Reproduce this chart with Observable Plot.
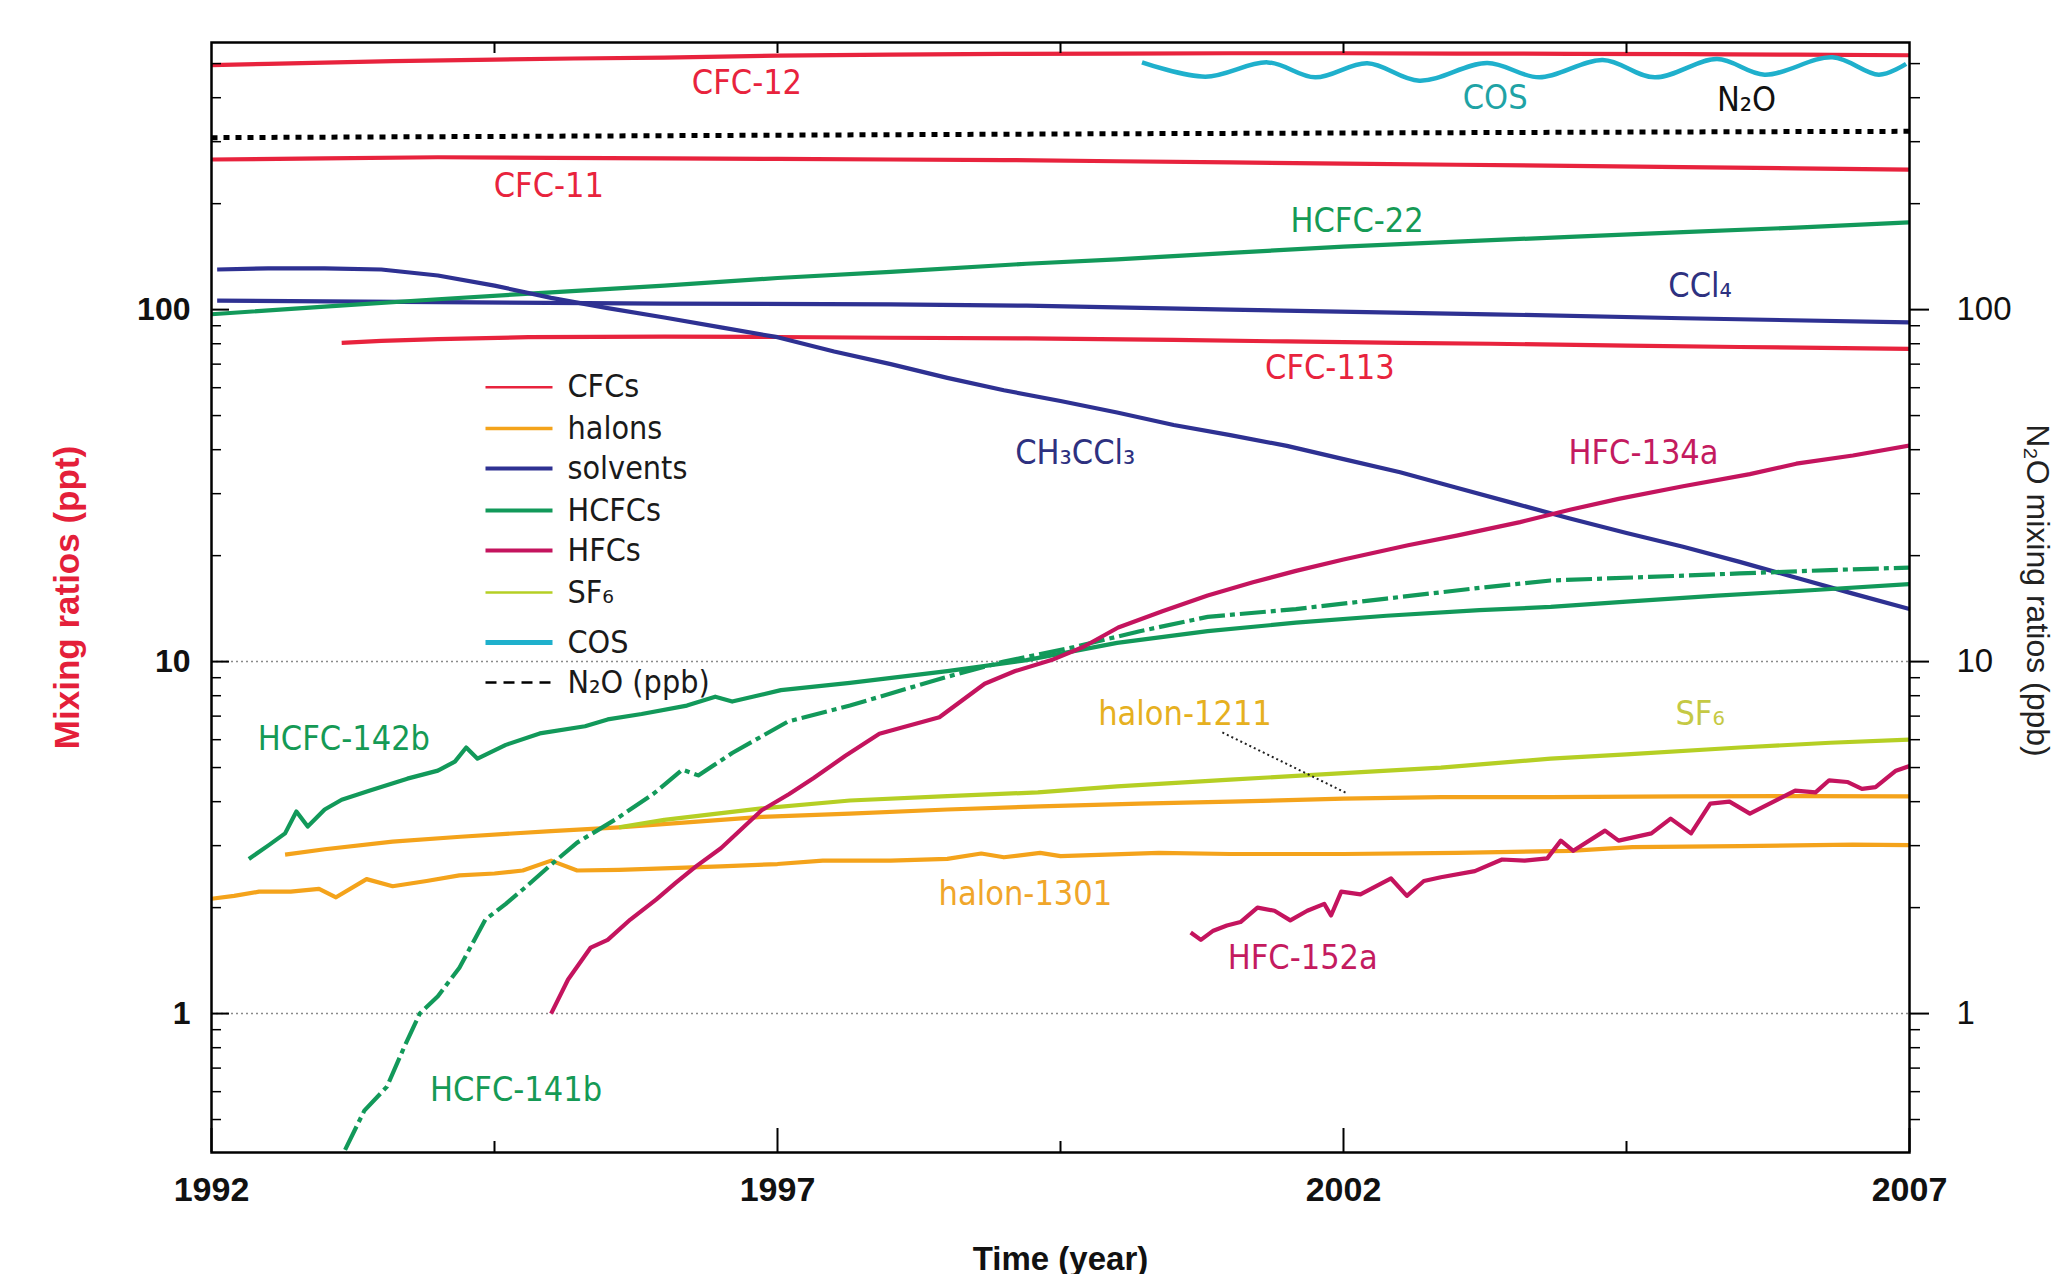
<!DOCTYPE html>
<html>
<head>
<meta charset="utf-8">
<script src="https://cdn.jsdelivr.net/npm/d3@7"></script>
<script src="https://cdn.jsdelivr.net/npm/@observablehq/plot@0.6"></script>
<style>
  html, body { margin: 0; padding: 0; background: #ffffff; overflow: hidden; }
  #chart svg { display: block; }
</style>
</head>
<body>
<div id="chart"></div>
<script>
// ---------------- data (year, mixing ratio) ----------------
const cfc12 = [[1992.0,495],[1992.5,499],[1993.0,503],[1993.6,508],[1994.5,513],[1995.2,517],[1996.0,520],[1997.0,527],[1998.0,530],[1999.0,533],[2000.0,534],[2001.0,535],[2002.0,535],[2003.0,534],[2004.0,533],[2005.0,532],[2006.0,530],[2007.0,528]];
const cfc11 = [[1992.0,267],[1993.0,269],[1994.0,271],[1995.0,270],[1996.0,269],[1997.0,268],[1998.0,267],[1999.0,266],[2000.0,264],[2001.0,262],[2002.0,260],[2003.0,258],[2004.0,256],[2005.0,254],[2006.0,252],[2007.0,250]];
const cfc113 = [[1993.15,80.5],[1993.5,81.5],[1994.0,82.5],[1994.8,83.5],[1996.0,83.8],[1997.0,83.6],[1998.0,83.2],[1999.2,82.8],[2000.5,82.0],[2001.5,81.2],[2002.5,80.5],[2003.3,80.0],[2004.5,79.0],[2005.5,78.3],[2007.0,77.4]];
const ccl4 = [[1992.05,106],[1994.0,105],[1996.0,104],[1998.0,103.5],[1999.2,102.6],[2001.0,100],[2003.3,97],[2005.0,94.5],[2007.0,92]];
const ch3ccl3 = [[1992.05,130],[1992.5,131],[1993.0,131],[1993.5,130],[1994.0,125],[1994.5,117],[1995.0,108],[1995.5,101],[1996.0,95],[1996.5,89],[1997.0,83.5],[1997.5,76],[1998.0,70],[1998.5,64],[1999.0,59],[1999.5,55],[2000.0,51],[2000.5,47],[2001.0,44],[2001.5,41],[2002.0,37.6],[2002.5,34.5],[2003.0,31.2],[2003.5,28.2],[2004.0,25.5],[2004.5,23.2],[2005.0,21.2],[2005.5,19.2],[2006.0,17.3],[2006.5,15.6],[2007.0,14.1]];
const hcfc22 = [[1992.0,97],[1993.0,102],[1994.0,107],[1995.0,112],[1996.0,117],[1997.0,123],[1998.0,128],[1999.2,135],[2000.0,139],[2001.0,145],[2002.0,151],[2003.0,156],[2004.0,161],[2005.0,166],[2006.0,171],[2007.0,177]];
const hcfc142b = [[1992.33,2.75],[1992.5,3.0],[1992.65,3.25],[1992.75,3.75],[1992.85,3.4],[1993.0,3.8],[1993.15,4.05],[1993.4,4.3],[1993.73,4.65],[1994.0,4.9],[1994.15,5.2],[1994.25,5.7],[1994.35,5.3],[1994.6,5.8],[1994.9,6.25],[1995.3,6.55],[1995.5,6.85],[1995.8,7.1],[1996.2,7.5],[1996.45,7.95],[1996.6,7.7],[1997.03,8.3],[1997.64,8.7],[1998.5,9.4],[1999.2,10.1],[2000.0,11.3],[2000.8,12.2],[2001.58,12.9],[2002.38,13.5],[2003.2,14.0],[2003.83,14.3],[2004.5,14.8],[2005.3,15.4],[2006.2,16.0],[2007.0,16.6]];
const hcfc141b = [[1993.18,0.41],[1993.35,0.53],[1993.55,0.62],[1993.7,0.8],[1993.84,1.0],[1994.0,1.12],[1994.19,1.35],[1994.42,1.85],[1994.6,2.05],[1994.77,2.28],[1995.0,2.65],[1995.23,3.06],[1995.58,3.58],[1995.9,4.2],[1996.16,4.93],[1996.3,4.75],[1996.6,5.5],[1997.09,6.75],[1997.64,7.5],[1998.47,9.0],[1999.0,10.0],[1999.62,11.0],[2000.2,12.2],[2000.8,13.4],[2001.58,14.1],[2002.38,15.1],[2003.2,16.2],[2003.83,17.0],[2004.7,17.4],[2005.5,17.8],[2006.3,18.2],[2007.0,18.5]];
const hfc134a = [[1995.0,1.0],[1995.15,1.25],[1995.35,1.54],[1995.5,1.62],[1995.7,1.85],[1995.93,2.11],[1996.1,2.35],[1996.28,2.62],[1996.5,2.95],[1996.86,3.78],[1997.1,4.2],[1997.32,4.67],[1997.6,5.4],[1997.9,6.24],[1998.1,6.5],[1998.43,6.95],[1998.83,8.65],[1999.1,9.4],[1999.42,10.1],[1999.7,11.0],[2000.01,12.5],[2000.4,13.9],[2000.8,15.4],[2001.2,16.8],[2001.58,18.1],[2002.0,19.5],[2002.57,21.4],[2003.0,22.8],[2003.56,24.9],[2004.0,27.0],[2004.43,29.0],[2005.0,31.5],[2005.59,34.1],[2006.0,36.5],[2006.5,38.5],[2007.0,41.1]];
const hfc152a = [[2000.65,1.7],[2000.74,1.62],[2000.85,1.72],[2000.97,1.78],[2001.09,1.82],[2001.24,2.0],[2001.39,1.96],[2001.53,1.84],[2001.68,1.96],[2001.83,2.05],[2001.89,1.9],[2001.98,2.22],[2002.15,2.18],[2002.42,2.42],[2002.56,2.16],[2002.71,2.38],[2002.86,2.44],[2003.16,2.54],[2003.4,2.74],[2003.6,2.72],[2003.8,2.76],[2003.92,3.1],[2004.03,2.9],[2004.31,3.31],[2004.43,3.1],[2004.72,3.25],[2004.89,3.58],[2005.07,3.25],[2005.24,3.95],[2005.41,4.0],[2005.59,3.7],[2005.99,4.3],[2006.17,4.25],[2006.29,4.6],[2006.45,4.55],[2006.58,4.35],[2006.7,4.4],[2006.88,4.9],[2007.0,5.05]];
const sf6 = [[1995.6,3.38],[1996.0,3.55],[1996.86,3.83],[1997.64,4.03],[1998.5,4.15],[1999.3,4.25],[2000.0,4.42],[2001.0,4.62],[2002.0,4.82],[2002.86,5.0],[2003.83,5.3],[2004.5,5.45],[2005.5,5.7],[2006.3,5.88],[2007.0,6.0]];
const halon1211 = [[1992.65,2.83],[1993.0,2.93],[1993.6,3.08],[1994.2,3.18],[1995.0,3.3],[1995.6,3.38],[1996.86,3.62],[1997.64,3.7],[1998.5,3.8],[1999.32,3.88],[2000.2,3.95],[2001.0,4.0],[2002.0,4.08],[2002.86,4.12],[2003.83,4.12],[2005.0,4.14],[2006.0,4.15],[2007.0,4.14]];
const halon1301 = [[1992.0,2.12],[1992.2,2.16],[1992.42,2.22],[1992.7,2.22],[1992.95,2.26],[1993.1,2.14],[1993.37,2.41],[1993.6,2.3],[1993.9,2.38],[1994.19,2.47],[1994.5,2.5],[1994.75,2.55],[1995.0,2.72],[1995.23,2.55],[1995.6,2.56],[1995.93,2.58],[1996.5,2.62],[1997.0,2.66],[1997.4,2.72],[1998.0,2.72],[1998.5,2.75],[1998.8,2.85],[1999.0,2.78],[1999.32,2.86],[1999.5,2.8],[2000.37,2.86],[2001.0,2.84],[2002.0,2.84],[2003.0,2.86],[2004.0,2.9],[2004.55,2.97],[2005.5,2.99],[2006.5,3.02],[2007.0,3.01]];
const cos = [[2000.22,504],[2000.78,459],[2001.33,504],[2001.75,457],[2002.21,501],[2002.67,447],[2003.27,502],[2003.73,457],[2004.29,512],[2004.75,457],[2005.3,515],[2005.72,465],[2006.32,521],[2006.73,465],[2006.97,499]];
const n2o = [[1992.0,308],[1994.0,310],[1996.0,312],[1998.0,314],[2000.0,316],[2002.0,317.5],[2004.0,319],[2006.0,320.5],[2007.0,321]];

// tick labels
const xTickLabels = [1992, 1997, 2002, 2007];
const xMinorTicks = [1994.5, 1999.5, 2004.5];
const xTopTicks = [1994.5, 1997, 1999.5, 2002, 2004.5];
const yTickLabels = [1, 10, 100];
const yGridLines = [1, 10];

// in-chart labels (data coordinates)
const seriesLabels = [
  {text: "CFC-12",    x: 1996.73, y: 439,  color: "#e8233d"},
  {text: "CFC-11",    x: 1994.98, y: 225,  color: "#e8233d"},
  {text: "HCFC-22",   x: 2002.12, y: 179,  color: "#159a55"},
  {text: "CCl₄",      x: 2005.15, y: 117,  color: "#2e3180"},
  {text: "CFC-113",   x: 2001.88, y: 68,   color: "#e8233d"},
  {text: "CH₃CCl₃",   x: 1999.63, y: 39.2, color: "#2e3180"},
  {text: "HFC-134a",  x: 2004.65, y: 39.2, color: "#c41b5f"},
  {text: "COS",       x: 2003.34, y: 399,  color: "#1fa3a5"},
  {text: "N₂O",       x: 2005.56, y: 393,  color: "#111111"},
  {text: "HCFC-142b", x: 1993.17, y: 6.04, color: "#159a55"},
  {text: "HCFC-141b", x: 1994.69, y: 0.608,color: "#159a55"},
  {text: "halon-1211",x: 2000.6,  y: 7.11, color: "#e6b020"},
  {text: "SF₆",       x: 2005.15, y: 7.1,  color: "#c5c944"},
  {text: "halon-1301",x: 1999.19, y: 2.19, color: "#f0a62a"},
  {text: "HFC-152a",  x: 2001.64, y: 1.44, color: "#c41b5f"}
];
const leader = [{x1: 2000.93, y1: 6.29, x2: 2002.04, y2: 4.21}];

// legend
const legendItems = [
  {label: "CFCs",      color: "#e8233d", width: 2.5},
  {label: "halons",    color: "#f4a31b", width: 3.5},
  {label: "solvents",  color: "#2e3192", width: 4},
  {label: "HCFCs",     color: "#12995a", width: 4},
  {label: "HFCs",      color: "#c4145e", width: 4},
  {label: "SF₆",       color: "#b5cf24", width: 2.5},
  {label: "COS",       color: "#1fb0cc", width: 5},
  {label: "N₂O (ppb)", color: "#000000", width: 2.5, dash: "11,7"}
];

// ---------------- layout ----------------
const W = 2056, H = 1274;
const mL = 211, mR = 147, mT = 42, mB = 122;
const innerW = W - mL - mR, innerH = H - mT - mB;
const xDomain = [1992, 2007];
const yDomain = [0.403, 574];

const RED = "#e8233d", ORANGE = "#f4a31b", NAVY = "#2e3192", GREEN = "#12995a",
      CRIMSON = "#c4145e", LIME = "#b5cf24", CYAN = "#1fb0cc";

// minor log ticks
const yMinorTicks = [];
for (const d of [0.1, 1, 10, 100]) for (let m = 2; m <= 9; m++) {
  const v = +(d * m).toPrecision(3);
  if (v > yDomain[0] && v < yDomain[1]) yMinorTicks.push(v);
}

// pixel <-> data helpers mirroring Plot's scales (for legend placement)
const xs = d3.scaleLinear(xDomain, [mL, W - mR]);
const ys = d3.scaleLog(yDomain, [H - mB, mT]);
const legendRowPx = [386.7, 428, 468, 510, 550, 592, 642, 682];
const legX1 = xs.invert(485), legX2 = xs.invert(552), legTX = xs.invert(567);

const labelFont = "'DejaVu Sans Condensed', 'DejaVu Sans', sans-serif";
const tickFont = "'Liberation Sans', Arial, sans-serif";

const line = (data, opts) => Plot.line(data, {x: d => d[0], y: d => d[1], strokeWidth: 4.2, clip: true, strokeLinejoin: "round", strokeLinecap: "butt", ...opts});

const marks = [
  Plot.ruleY(yGridLines, {stroke: "#8a8a8a", strokeWidth: 1.5, strokeDasharray: "2,3"}),
  line(n2o, {stroke: "#000", strokeWidth: 5, strokeDasharray: "6,6"}),
  line(cfc12, {stroke: RED}),
  line(cfc11, {stroke: RED}),
  line(cfc113, {stroke: RED}),
  line(ccl4, {stroke: NAVY}),
  line(hcfc22, {stroke: GREEN}),
  line(ch3ccl3, {stroke: NAVY}),
  line(halon1301, {stroke: ORANGE}),
  line(halon1211, {stroke: ORANGE}),
  line(sf6, {stroke: LIME}),
  line(hcfc142b, {stroke: GREEN}),
  line(hcfc141b, {stroke: GREEN, strokeDasharray: "26,5,5,5"}),
  line(hfc134a, {stroke: CRIMSON}),
  line(hfc152a, {stroke: CRIMSON}),
  line(cos, {stroke: CYAN, strokeWidth: 4.5, curve: "catmull-rom"}),
  Plot.link(leader, {x1: "x1", y1: "y1", x2: "x2", y2: "y2", stroke: "#222", strokeWidth: 2, strokeDasharray: "2,3"}),
  Plot.text(seriesLabels, {x: "x", y: "y", text: "text", fill: "color", fontSize: 34, fontFamily: labelFont, textAnchor: "middle", lineAnchor: "middle"})
];

legendItems.forEach((it, i) => {
  const yv = ys.invert(legendRowPx[i]);
  marks.push(Plot.link([it], {x1: () => legX1, x2: () => legX2, y1: () => yv, y2: () => yv,
    stroke: it.color, strokeWidth: it.width, strokeDasharray: it.dash || null}));
  marks.push(Plot.text([it], {x: () => legTX, y: () => yv, text: "label", fill: "#1a1a1a",
    fontSize: 32, fontFamily: labelFont, textAnchor: "start", lineAnchor: "middle"}));
});

marks.push(
  Plot.frame({stroke: "#000", strokeWidth: 2.5}),
  // left ticks (inward)
  Plot.tickY(yTickLabels, {y: d => d, insetRight: innerW - 18, stroke: "#000", strokeWidth: 2}),
  Plot.tickY(yMinorTicks, {y: d => d, insetRight: innerW - 10, stroke: "#000", strokeWidth: 1.5}),
  // right ticks (outward)
  Plot.tickY(yTickLabels, {y: d => d, insetLeft: innerW, insetRight: -20, stroke: "#000", strokeWidth: 2}),
  Plot.tickY(yMinorTicks, {y: d => d, insetLeft: innerW, insetRight: -11, stroke: "#000", strokeWidth: 1.5}),
  // bottom ticks (inward)
  Plot.tickX(xTickLabels, {x: d => d, insetTop: innerH - 24, stroke: "#000", strokeWidth: 2}),
  Plot.tickX(xMinorTicks, {x: d => d, insetTop: innerH - 11, stroke: "#000", strokeWidth: 2}),
  // top ticks (inward)
  Plot.tickX(xTopTicks, {x: d => d, insetBottom: innerH - 11, stroke: "#000", strokeWidth: 2}),
  // tick labels
  Plot.text(xTickLabels, {x: d => d, frameAnchor: "bottom", dy: 48, lineAnchor: "bottom", text: d => String(d),
    fontSize: 34, fontWeight: "bold", fontFamily: tickFont, fill: "#111"}),
  Plot.text(yTickLabels, {y: d => d, frameAnchor: "left", dx: -21, textAnchor: "end", lineAnchor: "middle", text: d => String(d),
    fontSize: 32, fontWeight: "bold", fontFamily: tickFont, fill: "#111"}),
  Plot.text(yTickLabels, {y: d => d, frameAnchor: "right", dx: 47, textAnchor: "start", lineAnchor: "middle", text: d => String(d),
    fontSize: 33, fontFamily: tickFont, fill: "#111"}),
  // axis titles
  Plot.text(["Time (year)"], {frameAnchor: "bottom", dy: 117, textAnchor: "middle", lineAnchor: "bottom", text: d => d,
    fontSize: 33, fontWeight: "bold", fontFamily: tickFont, fill: "#111"}),
  Plot.text(["Mixing ratios (ppt)"], {frameAnchor: "left", dx: -133, rotate: -90, textAnchor: "middle", lineAnchor: "bottom", text: d => d,
    fontSize: 35, fontWeight: "bold", fontFamily: tickFont, fill: "#e41f3a"}),
  Plot.text(["N₂O mixing ratios (ppb)"], {frameAnchor: "right", dx: 117, dy: -7, rotate: 90, textAnchor: "middle", lineAnchor: "bottom", text: d => d,
    fontSize: 32, fontFamily: tickFont, fill: "#222"})
);

const chart = Plot.plot({
  width: W, height: H,
  marginLeft: mL, marginRight: mR, marginTop: mT, marginBottom: mB,
  x: {domain: xDomain, axis: null},
  y: {type: "log", domain: yDomain, axis: null},
  color: {type: "identity"},
  style: {background: "#ffffff", overflow: "visible"},
  marks
});
document.getElementById("chart").appendChild(chart);
</script>
</body>
</html>
